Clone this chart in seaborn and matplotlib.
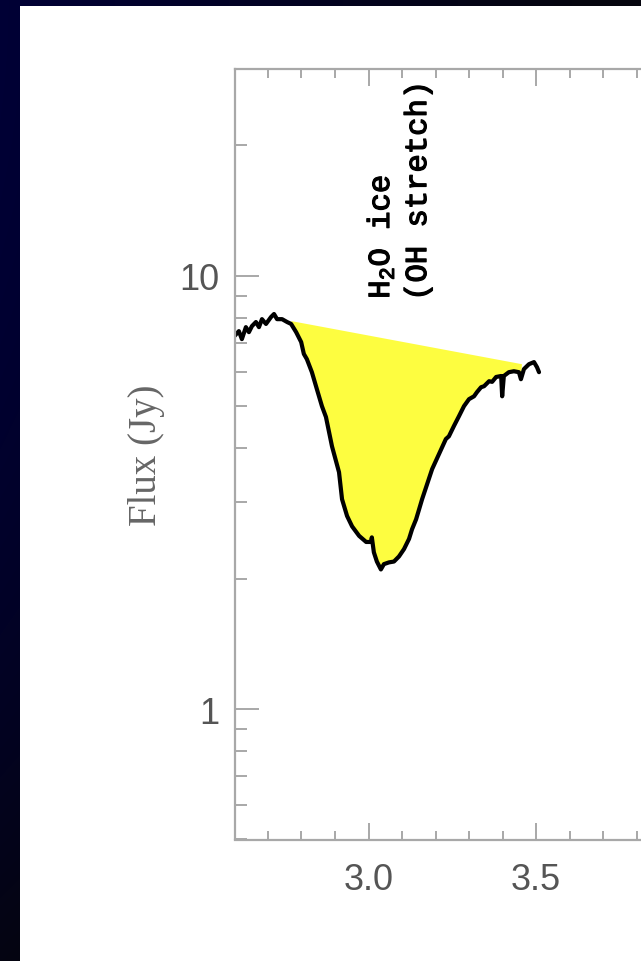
import numpy as np
import pandas as pd
import matplotlib
matplotlib.use("Agg")
import matplotlib.pyplot as plt
import matplotlib.ticker as mticker
import matplotlib.patheffects as pe
import seaborn as sns

# Spectrum around the 3 micron water-ice band
wavelength = [
    2.600, 2.613, 2.622, 2.634, 2.643, 2.652, 2.664, 2.673, 2.682, 2.694,
    2.709, 2.718, 2.727, 2.742, 2.757, 2.769, 2.784, 2.799, 2.807, 2.816,
    2.831, 2.846, 2.861, 2.873, 2.891, 2.912, 2.921, 2.936, 2.951, 2.972,
    2.993, 3.007, 3.010, 3.016, 3.025, 3.037, 3.046, 3.061, 3.076, 3.091,
    3.106, 3.121, 3.130, 3.142, 3.151, 3.160, 3.190, 3.231, 3.240, 3.255,
    3.270, 3.285, 3.300, 3.315, 3.324, 3.336, 3.345, 3.360, 3.369, 3.381,
    3.396, 3.399, 3.404, 3.419, 3.434, 3.449, 3.455, 3.464, 3.479, 3.494,
    3.503, 3.509,
]
flux = [
    7.26, 7.45, 7.14, 7.61, 7.41, 7.65, 7.82, 7.61, 7.94, 7.74,
    8.03, 8.16, 7.94, 7.94, 7.82, 7.74, 7.41, 7.03, 6.60, 6.42,
    5.99, 5.47, 5.00, 4.72, 4.04, 3.52, 3.05, 2.79, 2.64, 2.51,
    2.43, 2.43, 2.49, 2.30, 2.19, 2.10, 2.16, 2.18, 2.19, 2.25,
    2.34, 2.47, 2.60, 2.74, 2.89, 3.05, 3.58, 4.20, 4.26, 4.50,
    4.74, 5.00, 5.19, 5.27, 5.39, 5.53, 5.56, 5.71, 5.69, 5.84,
    5.87, 5.27, 5.87, 5.99, 6.02, 5.99, 5.77, 6.09, 6.25, 6.32,
    6.15, 5.99,
]

# Continuum anchor points bounding the absorption feature
continuum_wl = [2.769, 3.458]
continuum_flux = [7.86, 6.25]

y_ticks = [1, 10]
x_ticks = [3.0, 3.5]

spec = pd.DataFrame({"wavelength": wavelength, "flux": flux})

W, H, DPI = 641, 962, 100
sns.set_style("ticks")
plt.rcParams["mathtext.fontset"] = "custom"
plt.rcParams["mathtext.rm"] = "Liberation Mono"
plt.rcParams["mathtext.it"] = "Liberation Mono"
plt.rcParams["mathtext.bf"] = "Liberation Mono"

fig = plt.figure(figsize=(W / DPI, H / DPI), dpi=DPI)

# Dark navy frame with a white panel
rows = np.arange(H)[:, None] / H
cols = np.arange(W)[None, :] / W
t = np.clip(1.0 - cols * 1.1 - rows ** 2 * 0.9, 0, 1)
navy = np.array([0.0, 0.0, 0.21])
dark = np.array([0.02, 0.02, 0.055])
bg = dark + t[..., None] * (navy - dark)
panel = (np.arange(H)[:, None] >= 7) & (np.arange(W)[None, :] >= 20)
bg[panel] = 1.0
fig.figimage(bg, xo=0, yo=0, origin="upper", zorder=-10)

ax_left, ax_bottom_px, ax_top_px = 234.5, 840.5, 70
x_min, x_max = 2.6, 4.0
px_per_unit = 335
ax = fig.add_axes([
    ax_left / W,
    (H - ax_bottom_px) / H,
    (x_max - x_min) * px_per_unit / W,
    (ax_bottom_px - ax_top_px) / H,
])
ax.set_facecolor("none")

# Yellow absorption area between continuum and spectrum
inside = spec[(spec.wavelength > continuum_wl[0]) & (spec.wavelength < continuum_wl[1])]
poly_x = [continuum_wl[0]] + inside.wavelength.tolist() + [continuum_wl[1]]
poly_y = [continuum_flux[0]] + inside.flux.tolist() + [continuum_flux[1]]
ax.fill(poly_x, poly_y, color="#fdfd40", lw=0, zorder=1)

sns.lineplot(data=spec, x="wavelength", y="flux", sort=False, estimator=None,
             color="black", lw=3.0, ax=ax, zorder=2)

ax.set_yscale("log")
ax.set_xlim(x_min, x_max)
ax.set_ylim(0.5, 30)

ax.yaxis.set_major_locator(mticker.FixedLocator(y_ticks))
ax.yaxis.set_major_formatter(mticker.FuncFormatter(lambda v, p: f"{v:g}"))
ax.yaxis.set_minor_locator(mticker.LogLocator(base=10, subs=np.arange(2, 10), numticks=20))
ax.yaxis.set_minor_formatter(mticker.NullFormatter())
ax.xaxis.set_major_locator(mticker.FixedLocator(x_ticks))
ax.xaxis.set_minor_locator(mticker.MultipleLocator(0.1))
ax.xaxis.set_major_formatter(mticker.FormatStrFormatter("%.1f"))

spine_col = "#a8a8a8"
for s in ax.spines.values():
    s.set_color(spine_col)
    s.set_linewidth(1.6)

ax.tick_params(which="both", direction="in", color=spine_col, width=1.4,
               top=True, right=True, labelcolor="#555555")
ax.tick_params(axis="y", which="major", length=17, pad=11, labelsize=26)
ax.tick_params(axis="y", which="minor", length=8.5)
ax.tick_params(axis="x", which="major", length=12, pad=16, labelsize=26)
ax.tick_params(axis="x", which="minor", length=6.5)
for lab in ax.get_xticklabels() + ax.get_yticklabels():
    lab.set_fontfamily("Liberation Sans")

ax.set_xlabel("")
ax.set_ylabel("Flux (Jy)", fontsize=28, color="#666666",
              fontfamily="Liberation Serif", labelpad=10)

stroke = [pe.withStroke(linewidth=0.9, foreground="black")]
ax.text(3.035, 8.85, "H$_2$O ice", rotation=90, ha="center", va="bottom",
        fontsize=22, fontfamily="Liberation Mono", color="black",
        path_effects=stroke)
ax.text(3.148, 8.75, "(OH stretch)", rotation=90, ha="center", va="bottom",
        fontsize=22, fontfamily="Liberation Mono", color="black",
        path_effects=stroke)

fig.savefig("out.png", dpi=DPI)
